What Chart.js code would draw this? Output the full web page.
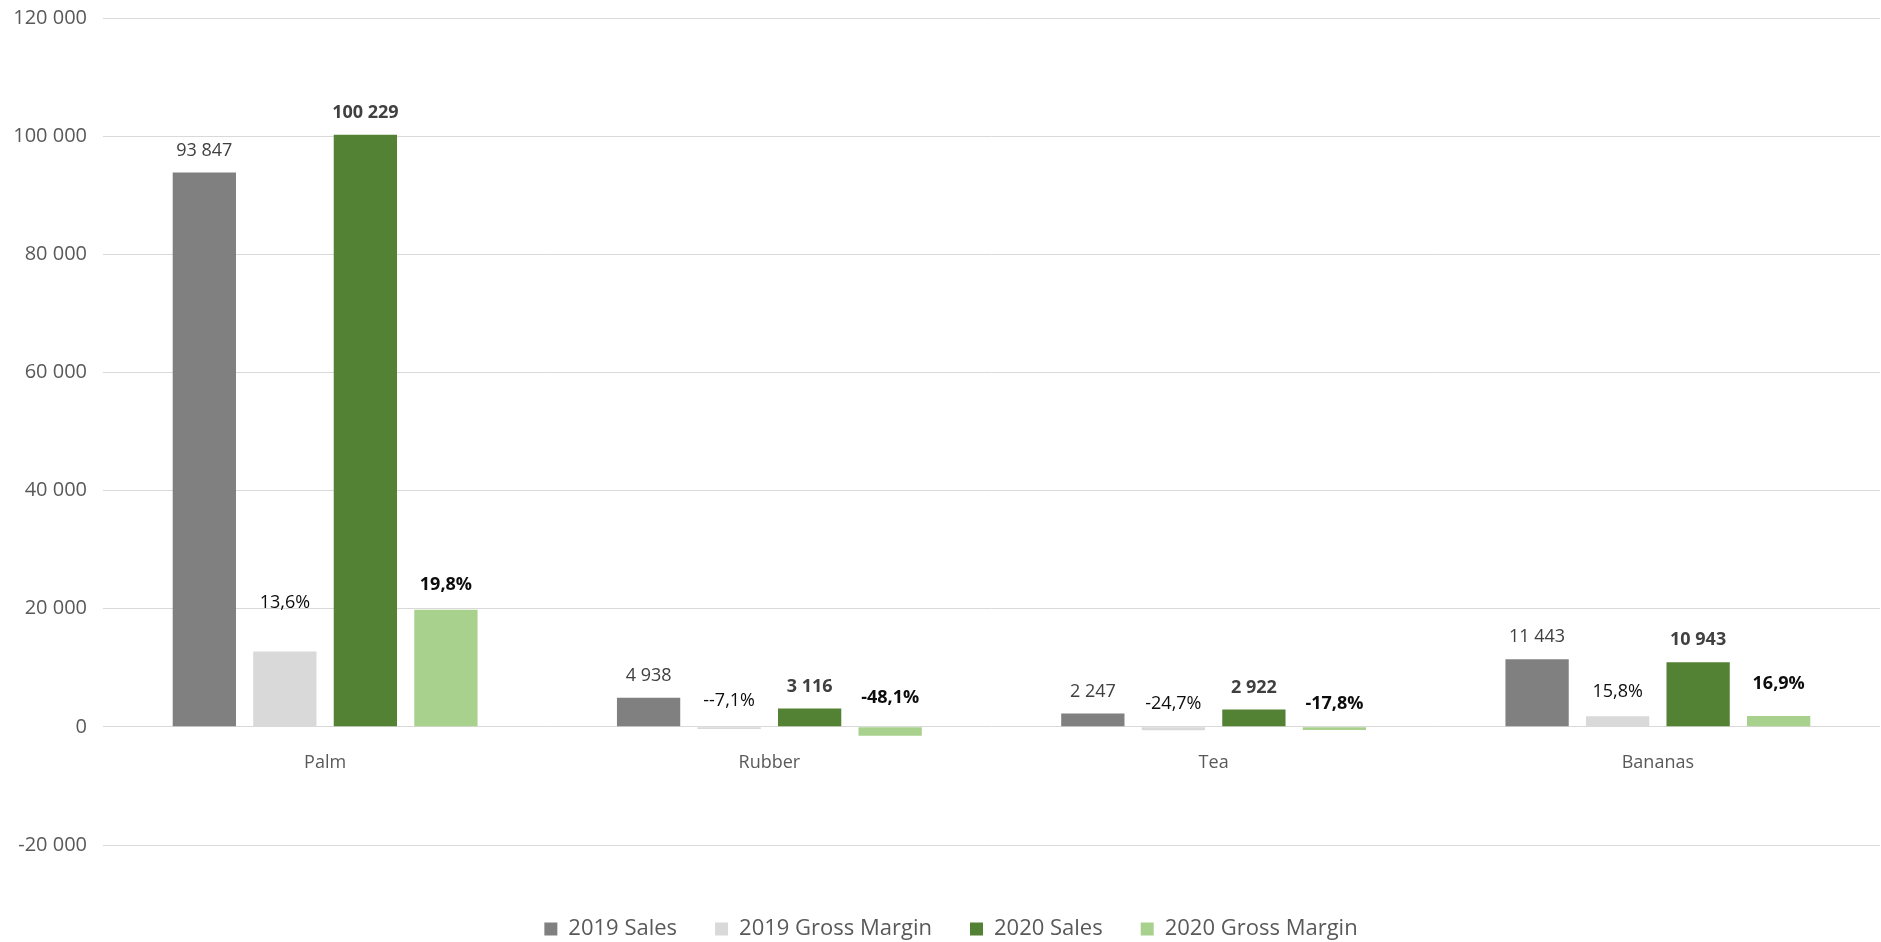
<!DOCTYPE html>
<html>
<head>
<meta charset="utf-8">
<title>Sales and gross margin by crop</title>
<script src="https://cdn.jsdelivr.net/npm/chart.js@4.4.1/dist/chart.umd.min.js"></script>
<style>
    html, body { margin: 0; padding: 0; background: #ffffff; }
    #wrap { width: 1881px; height: 942px; }
</style>
</head>
<body>
<div id="wrap"><canvas id="cropChart"></canvas></div>
<script>
// values
const categories = ['Palm', 'Rubber', 'Tea', 'Bananas'];
const sales2019 = [93847, 4938, 2247, 11443];
const margin2019 = [12760, -350, -555, 1810];
const sales2020 = [100229, 3116, 2922, 10943];
const margin2020 = [19845, -1500, -520, 1850];
const marginLabels2019 = ['13,6%', '--7,1%', '-24,7%', '15,8%'];
const marginLabels2020 = ['19,8%', '-48,1%', '-17,8%', '16,9%'];
const yTickValues = [-20000, 0, 20000, 40000, 60000, 80000, 100000, 120000];

const FONT = '"Open Sans", "Noto Sans", sans-serif';

function spaced(v) {
    return String(v).replace(/\B(?=(\d{3})+(?!\d))/g, ' ');
}

// labels above each bar
const barLabels = {
    id: 'barLabels',
    afterDatasetsDraw(chart, args, opts) {
        const ctx = chart.ctx;
        chart.data.datasets.forEach((ds, i) => {
            const meta = chart.getDatasetMeta(i);
            const st = opts.styles[i];
            ctx.save();
            ctx.font = (st.bold ? 'bold ' : '') + '18px ' + FONT;
            ctx.fillStyle = st.color;
            ctx.textAlign = 'center';
            ctx.textBaseline = 'middle';
            meta.data.forEach((bar, j) => {
                const top = Math.min(bar.y, bar.base);
                ctx.fillText(ds.labels[j], bar.x, top - st.lift[j]);
            });
            ctx.restore();
        });
    }
};

// nudge the legend down/right without changing the plot area
const legendShift = {
    id: 'legendShift',
    afterLayout(chart, args, opts) {
        const lg = chart.legend;
        lg.top += opts.dy; lg.bottom += opts.dy;
        lg.left += opts.dx; lg.right += opts.dx;
    }
};

const ctx = document.getElementById('cropChart').getContext('2d');
new Chart(ctx, {
    type: 'bar',
    data: {
        labels: categories,
        datasets: [{
            label: '2019 Sales',
            data: sales2019,
            labels: sales2019.map(spaced),
            backgroundColor: '#808080'
        }, {
            label: '2019 Gross Margin',
            data: margin2019,
            labels: marginLabels2019,
            backgroundColor: '#d9d9d9'
        }, {
            label: '2020 Sales',
            data: sales2020,
            labels: sales2020.map(spaced),
            backgroundColor: '#548235'
        }, {
            label: '2020 Gross Margin',
            data: margin2020,
            labels: marginLabels2020,
            backgroundColor: '#a9d18e'
        }]
    },
    options: {
        responsive: true,
        maintainAspectRatio: false,
        animation: false,
        categoryPercentage: 0.725,
        barPercentage: 0.786,
        layout: { padding: { top: 18, right: 1, bottom: 27, left: 0 } },
        scales: {
            x: {
                position: { y: 0 },
                grid: { display: false },
                border: { display: false },
                ticks: {
                    padding: 17,
                    color: '#595959',
                    font: { family: FONT, size: 18 }
                }
            },
            y: {
                min: -20000,
                max: 120000,
                afterBuildTicks: (scale) => {
                    scale.ticks = yTickValues.map(v => ({ value: v }));
                },
                afterFit: (scale) => { scale.width = 103; },
                grid: {
                    color: '#d9d9d9',
                    lineWidth: 1,
                    drawTicks: true,
                    tickLength: 16,
                    tickColor: 'rgba(0,0,0,0)'
                },
                border: { display: false },
                ticks: {
                    padding: 0,
                    color: '#595959',
                    font: { family: FONT, size: 20 },
                    callback: (v) => spaced(v)
                }
            }
        },
        plugins: {
            tooltip: { enabled: false },
            legend: {
                position: 'bottom',
                labels: {
                    boxWidth: 13,
                    boxHeight: 13,
                    padding: 38,
                    color: '#595959',
                    font: { family: FONT, size: 22 }
                }
            },
            legendShift: { dx: 11, dy: 35 },
            barLabels: {
                styles: [
                    { color: '#404040', bold: false, lift: [22, 22, 22, 22] },
                    { color: '#0d0d0d', bold: false, lift: [49, 26, 23, 24] },
                    { color: '#404040', bold: true, lift: [22, 22, 22, 22] },
                    { color: '#0d0d0d', bold: true, lift: [25, 29, 23, 32] }
                ]
            }
        }
    },
    plugins: [barLabels, legendShift]
});
</script>
</body>
</html>
